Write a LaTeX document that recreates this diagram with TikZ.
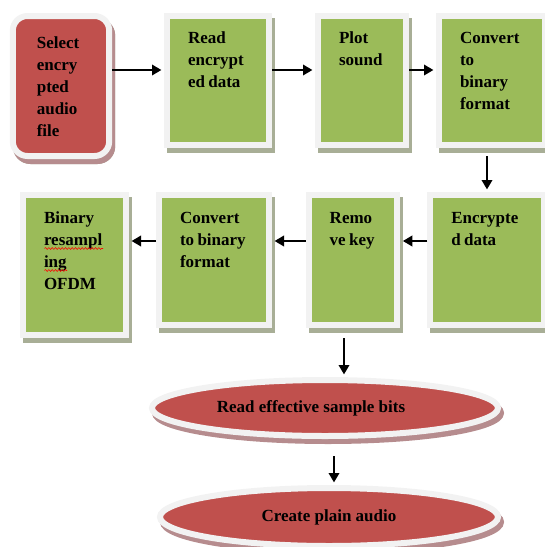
\documentclass[tikz,border=0pt]{standalone}
\usepackage{fontspec}
\setmainfont{Liberation Serif}
\usetikzlibrary{arrows.meta,shapes.geometric,decorations.pathmorphing}
\definecolor{boxgreen}{RGB}{155,187,89}
\definecolor{boxred}{RGB}{192,80,77}
\definecolor{rimgray}{RGB}{242,242,242}
\definecolor{greenshade}{RGB}{168,174,150}
\definecolor{redshade}{RGB}{182,140,142}
\newcommand{\boxfont}{\bfseries\fontsize{12.75}{16.5}\selectfont}
\tikzset{
  dropshade/.style={preaction={draw=#1,fill=#1,line width=4.5pt,
                    transform canvas={shift={(2.25pt,-3.75pt)}}}},
  stepbox/.style={draw=rimgray,line width=4.5pt,fill=boxgreen,dropshade=greenshade,
                  inner ysep=0pt,inner xsep=15.75pt,align=left,font=\boxfont,
                  execute at begin node={\hyphenpenalty=10000\spaceskip=0.2em}},
  startbox/.style={stepbox,fill=boxred,dropshade=redshade,rounded corners=11pt,
                   inner xsep=18pt},
  endoval/.style={ellipse,draw=rimgray,line width=4.5pt,fill=boxred,dropshade=redshade,
                  inner sep=0pt,font=\boxfont},
  arr/.style={-{Triangle[length=7pt,width=8pt]},line width=1.1pt,black,shorten >=2pt},
  squiggle/.style={red,line width=0.4pt,decorate,
                   decoration={snake,segment length=2.5pt,amplitude=0.7pt}}
}
\begin{document}
\begin{tikzpicture}[x=0.75pt,y=-0.75pt]
  \useasboundingbox (0,0) rectangle (545,547);
  % first row
  \node[startbox,text width=36.3pt,text height=24pt,text depth=81pt] (sel) at (61,86)
    {Select\\encry\\pted\\audio\\file};
  \node[stepbox,text width=45pt,text height=20.25pt,text depth=76.5pt] (rd) at (218,80.5)
    {Read\\encrypt\\ed~data};
  \node[stepbox,text width=34.5pt,text height=20.25pt,text depth=76.5pt] (plt) at (362,80.5)
    {Plot\\sound};
  \node[stepbox,text width=48pt,text height=20.25pt,text depth=76.5pt] (cvt) at (492,80.5)
    {Convert\\to\\binary\\format};
  % second row
  \node[stepbox,text width=53.6pt,text height=21.4pt,text depth=76.1pt] (enc) at (487,260)
    {Encrypte\\d~data};
  \node[stepbox,text width=34.9pt,text height=21.4pt,text depth=76.1pt] (rmk) at (353,260)
    {Remo\\ve~key};
  \node[stepbox,text width=51pt,text height=21.4pt,text depth=76.1pt] (cvb) at (214,260)
    {Convert\\to~binary\\format};
  \node[stepbox,text width=45.75pt,text height=21.4pt,text depth=83.6pt] (bin) at (74.5,265)
    {Binary\\resampl\\ing\\OFDM};
  \draw[squiggle] (44.5,248.5) -- (103,248.5);
  \draw[squiggle] (44.5,270.5) -- (67,270.5);
  % last steps
  \node[endoval,minimum width=259.5pt,minimum height=42pt] (eff) at (325,408)
    {Read effective sample bits\hspace*{21pt}};
  \node[endoval,minimum width=253.5pt,minimum height=43.5pt] (pln) at (329,517)
    {Create plain audio};
  % connectors
  \coordinate (ya) at (0,70);
  \coordinate (yb) at (0,241);
  \coordinate (xa) at (487,0);
  \coordinate (xb) at (344,0);
  \coordinate (xc) at (334,0);
  \draw[arr] (sel.east |- ya) -- (rd.west |- ya);
  \draw[arr] (rd.east |- ya) -- (plt.west |- ya);
  \draw[arr] (plt.east |- ya) -- (cvt.west |- ya);
  \draw[arr,shorten <=6pt] (cvt.south -| xa) -- (enc.north -| xa);
  \draw[arr] (enc.west |- yb) -- (rmk.east |- yb);
  \draw[arr] (rmk.west |- yb) -- (cvb.east |- yb);
  \draw[arr] (cvb.west |- yb) -- (bin.east |- yb);
  \draw[arr,shorten <=7.5pt] (rmk.south -| xb) -- (eff.north -| xb);
  \draw[arr,shorten <=12.75pt] (eff.south -| xc) -- (pln.north -| xc);
\end{tikzpicture}
\end{document}
